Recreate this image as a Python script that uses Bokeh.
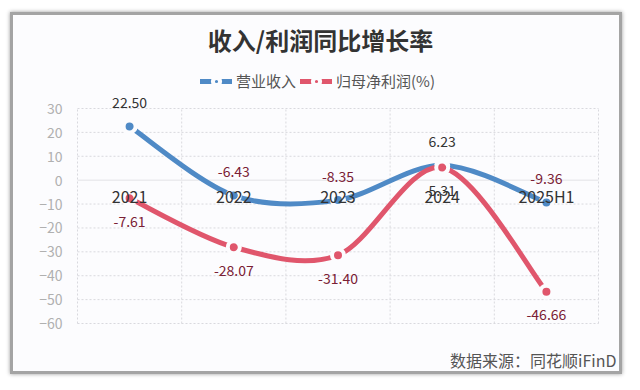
from bokeh.plotting import figure
from bokeh.models import (Range1d, FixedTicker, LinearAxis, Label, Legend, LegendItem,
                          ColumnDataSource)
from bokeh.core.properties import value
from bokeh.embed import file_html
from bokeh.resources import INLINE

# ---- data ----
categories = ["2021", "2022", "2023", "2024", "2025H1"]
revenue_growth = [22.50, -6.43, -8.35, 6.23, -9.36]
profit_growth = [-7.61, -28.07, -31.40, 5.31, -46.66]
y_ticks = [30, 20, 10, 0, -10, -20, -30, -40, -50, -60]
title_text = "收入/利润同比增长率"
series_names = ["营业收入", "归母净利润(%)"]
source_text = "数据来源：同花顺iFinD"

BLUE = "#4f8ac6"
RED = "#e0566c"
FONT = "Noto Sans CJK SC"
CARD = "#fcfcfe"
GRID = "#d9d9de"

# ---- layout (pixels inside the card) ----
W, H = 612, 362
PL, PR, PT, PB = 64, 27, 93, 54          # chart area margins inside the card
n = len(categories)
ymin, ymax = min(y_ticks), max(y_ticks)
xpx = (W - PL - PR) / n
ypx = (H - PT - PB) / (ymax - ymin)

xs = [i + 0.5 for i in range(n)]

p = figure(width=W, height=H, output_backend="svg", toolbar_location=None,
           x_range=Range1d(-PL / xpx, n + PR / xpx),
           y_range=Range1d(ymin - PB / ypx, ymax + PT / ypx),
           x_axis_location=None, y_axis_location=None, min_border=0)
p.styles = {"border": "3px solid #a4a4a4", "box-shadow": "0 0 4px #9a9a9a",
            "margin": "12px 0 0 10px"}
p.background_fill_color = CARD
p.border_fill_color = CARD
p.outline_line_color = None
p.xgrid.visible = False
p.ygrid.visible = False

# grid lines of the chart area, from the tick lists
band_edges = list(range(n + 1))
p.segment(x0=0, x1=n, y0=[t for t in y_ticks if t != 0], y1=[t for t in y_ticks if t != 0],
          line_color=GRID, line_width=1, line_dash="2 2")
p.segment(x0=band_edges, x1=band_edges, y0=ymin, y1=ymax,
          line_color=GRID, line_width=1, line_dash="2 2")
p.segment(x0=[0], x1=[n], y0=[0], y1=[0], line_color="#e2e2e6", line_width=1)

# y axis at the chart area's left edge
yax = LinearAxis(ticker=FixedTicker(ticks=y_ticks), fixed_location=0)
yax.axis_line_color = None
yax.major_tick_line_color = None
yax.minor_tick_line_color = None
yax.major_label_text_color = "#b0b0b0"
yax.major_label_text_font = FONT
yax.major_label_text_font_size = "14px"
yax.major_label_standoff = 9
p.add_layout(yax, "left")

# x axis at y = 0
xax = LinearAxis(ticker=FixedTicker(ticks=xs), fixed_location=0,
                 major_label_overrides={x: c for x, c in zip(xs, categories)})
xax.axis_line_color = None
xax.major_tick_line_color = None
xax.minor_tick_line_color = None
xax.major_label_text_color = "#333333"
xax.major_label_text_font = FONT
xax.major_label_text_font_size = "16px"
xax.major_label_standoff = -2
p.add_layout(xax, "below")


def bezier_segments(x, y, k=0.16):
    m = len(x)
    d = dict(x0=[], y0=[], x1=[], y1=[], cx0=[], cy0=[], cx1=[], cy1=[])
    for i in range(m - 1):
        a = max(i - 1, 0)
        b = min(i + 2, m - 1)
        d["x0"].append(x[i]); d["y0"].append(y[i])
        d["x1"].append(x[i + 1]); d["y1"].append(y[i + 1])
        d["cx0"].append(x[i] + (x[i + 1] - x[a]) * k)
        d["cy0"].append(y[i] + (y[i + 1] - y[a]) * k)
        d["cx1"].append(x[i + 1] - (x[b] - x[i]) * k)
        d["cy1"].append(y[i + 1] - (y[b] - y[i]) * k)
    return ColumnDataSource(d)


items = []
for name, vals, col, off in [(series_names[0], revenue_growth, BLUE, -24),
                             (series_names[1], profit_growth, RED, 23)]:
    bz = p.bezier(x0="x0", y0="y0", x1="x1", y1="y1", cx0="cx0", cy0="cy0",
                  cx1="cx1", cy1="cy1", source=bezier_segments(xs, vals),
                  line_color=col, line_width=5, line_cap="round")
    src = ColumnDataSource(dict(x=xs, y=vals, t=[f"{v:.2f}" for v in vals],
                                c=["#333333" if v >= 0 else "#7a2035" for v in vals]))
    sc = p.scatter("x", "y", source=src, size=12, fill_color=col,
                   line_color=CARD, line_width=4)
    p.text("x", "y", text="t", source=src, text_color="c", y_offset=off,
           text_align="center", text_baseline="middle",
           text_font=value(FONT), text_font_size="14px")
    items.append(LegendItem(label=name, renderers=[bz, sc]))

legend = Legend(items=items, orientation="horizontal", location=(187, 286),
                padding=0, margin=0, spacing=4, glyph_width=32, glyph_height=18,
                label_standoff=4, label_text_font=FONT, label_text_font_size="15px",
                label_text_color="#555555", background_fill_alpha=0,
                border_line_color=None)
p.add_layout(legend, "center")

p.add_layout(Label(x=307, y=338, x_units="screen", y_units="screen", text=title_text,
                   text_align="center", text_baseline="middle", text_font=FONT,
                   text_font_style="bold", text_font_size="24px", text_color="#333333"))
p.add_layout(Label(x=603, y=18, x_units="screen", y_units="screen", text=source_text,
                   text_align="right", text_baseline="middle", text_font=FONT,
                   text_font_size="16px", text_color="#555555"))

open("out.html", "w").write(file_html(p, INLINE))
